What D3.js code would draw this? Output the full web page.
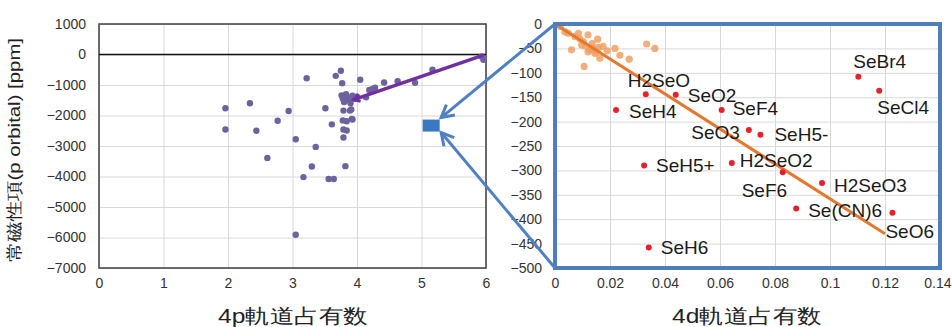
<!DOCTYPE html>
<html><head><meta charset="utf-8">
<script src="https://cdn.jsdelivr.net/npm/d3@7"></script>
<style>
html,body{margin:0;padding:0;background:#fff;}
text{font-family:"Liberation Sans",Arial,sans-serif;}
</style></head>
<body>
<svg id="c" width="952" height="327"></svg>
<script>
// ---------- data ----------
const leftX = [1.96,1.96,2.34,2.44,2.61,2.77,2.94,3.05,3.22,3.36,3.30,3.17,3.51,3.61,3.67,3.56,3.64,3.05,3.75,3.77,4.05,3.79,3.84,3.92,3.79,3.91,3.79,3.82,3.76,3.78,3.80,3.85,3.88,3.93,3.97,4.00,3.83,3.90,4.14,4.19,4.28,4.42,4.63,4.90,5.17,5.93,5.96,4.24,3.89,3.93,3.78,3.84];
const leftY = [-1760,-2460,-1600,-2500,-3390,-2170,-1850,-2780,-780,-3030,-3670,-4020,-1760,-2290,-700,-4080,-4080,-5910,-535,-940,-830,-2460,-2190,-2110,-1840,-1800,-2720,-3660,-1340,-1450,-1560,-1400,-1500,-1350,-1450,-1380,-1300,-1600,-1400,-1160,-1090,-920,-875,-930,-500,-65,-170,-1130,-1840,-2130,-2160,-2490];
const leftTrendX = [3.95,5.95];
const leftTrendY = [-1480,-30];
const leftXTicks = [0,1,2,3,4,5,6];
const leftYTicks = [1000,0,-1000,-2000,-3000,-4000,-5000,-6000,-7000];
const zoomMarkX = 5.15, zoomMarkY = -2330;

const orangeX = [0.002,0.0036,0.0048,0.006,0.0073,0.0085,0.0097,0.0103,0.0106,0.012,0.012,0.0127,0.0139,0.0145,0.0151,0.0155,0.0163,0.0175,0.0218,0.0236,0.027,0.0333,0.0363,0.009,0.011,0.0135,0.0158,0.019];
const orangeY = [-5,-16,-19,-53,-26,-19,-43,-36,-87,-22,-57,-53,-50,-60,-57,-31,-70,-46,-50,-64,-72,-41,-50,-30,-45,-40,-48,-55];
const orangeTrendX = [0,0.12];
const orangeTrendY = [0,-430];

const molNames = ["H2SeO","SeO2","SeH4","SeF4","SeO3","SeH5-","H2SeO2","SeH5+","SeBr4","SeCl4","SeF6","H2SeO3","Se(CN)6","SeO6","SeH6"];
const molX = [0.033,0.0439,0.0222,0.0606,0.0705,0.0747,0.0643,0.0324,0.1103,0.1179,0.0828,0.0971,0.0877,0.1227,0.0341];
const molY = [-144,-145,-176,-176,-217,-227,-285,-290,-108,-137,-304,-326,-378,-387,-458];
const rightXTicks = [0,0.02,0.04,0.06,0.08,0.1,0.12,0.14];
const rightYTicks = [0,-50,-100,-150,-200,-250,-300,-350,-400,-450,-500];

// label layout (pixel offsets from point, anchor)
const labelLayout = [
 [-18,-14,"start"],[12,1,"start"],[13,2,"start"],[11,-1,"start"],[-9,3,"end"],
 [14,0,"start"],[8,-3,"start"],[12,0,"start"],[-5,-15,"start"],[-2,17,"start"],
 [-41,18,"start"],[12,2,"start"],[12,2,"start"],[-7,19,"start"],[12,0,"start"]
];

// ---------- scales ----------
const svg = d3.select("#c");
const xL = d3.scaleLinear([0,6],[99,486]);
const yL = d3.scaleLinear([-7000,1000],[268,24]);
const xR = d3.scaleLinear([0,0.14],[555,940]);
const yR = d3.scaleLinear([-500,0],[268,24]);

const grid = "#d9d9d9";

// ---------- left chart ----------
const gL = svg.append("g");
gL.append("g").attr("transform","translate(0,268)")
  .call(d3.axisBottom(xL).tickValues(leftXTicks).tickSize(-244).tickFormat(""))
  .call(g=>g.select(".domain").remove())
  .call(g=>g.selectAll("line").attr("stroke",grid).attr("stroke-width",1));
gL.append("g").attr("transform","translate(99,0)")
  .call(d3.axisLeft(yL).tickValues(leftYTicks).tickSize(-387).tickFormat(""))
  .call(g=>g.select(".domain").remove())
  .call(g=>g.selectAll("line").attr("stroke",grid).attr("stroke-width",1));
gL.append("rect").attr("x",xL(0)).attr("y",yL(1000)).attr("width",xL(6)-xL(0)).attr("height",yL(-7000)-yL(1000))
  .attr("fill","none").attr("stroke","#4a4a4a").attr("stroke-width",1.6);
gL.append("line").attr("x1",xL(0)).attr("x2",xL(6)).attr("y1",yL(0)).attr("y2",yL(0))
  .attr("stroke","#111").attr("stroke-width",1.5);

// tick labels
gL.append("g").attr("transform","translate(99,0)")
  .call(d3.axisLeft(yL).tickValues(leftYTicks).tickSize(0).tickPadding(13).tickFormat(d3.format("d")))
  .call(g=>g.select(".domain").remove())
  .call(g=>g.selectAll("text").attr("font-size","14px").attr("fill","#333").attr("font-family","Liberation Sans, Arial"));
gL.append("g").attr("transform","translate(0,268)")
  .call(d3.axisBottom(xL).tickValues(leftXTicks).tickSize(0).tickPadding(10).tickFormat(d3.format("d")))
  .call(g=>g.select(".domain").remove())
  .call(g=>g.selectAll("text").attr("font-size","14px").attr("fill","#333").attr("font-family","Liberation Sans, Arial"));

gL.append("g").selectAll("circle").data(leftX).join("circle")
  .attr("cx",(d)=>xL(d)).attr("cy",(d,i)=>yL(leftY[i])).attr("r",3.2)
  .attr("fill","#6e629e");
gL.append("line")
  .attr("x1",xL(leftTrendX[0])).attr("y1",yL(leftTrendY[0]))
  .attr("x2",xL(leftTrendX[1])).attr("y2",yL(leftTrendY[1]))
  .attr("stroke","#7030a0").attr("stroke-width",3.5).attr("stroke-linecap","round");
(function(){
  const x1=xL(leftTrendX[1]), y1=yL(leftTrendY[1]), x0=xL(leftTrendX[0]), y0=yL(leftTrendY[0]);
  const a=Math.atan2(y0-y1,x0-x1);
  const L=7, s=0.55;
  gL.append("path")
    .attr("d",`M${x0-L*Math.cos(a-s)},${y0-L*Math.sin(a-s)}L${x0},${y0}L${x0-L*Math.cos(a+s)},${y0-L*Math.sin(a+s)}`)
    .attr("fill","none").attr("stroke","#7030a0").attr("stroke-width",3);
})();

// zoom marker square
gL.append("rect").attr("x",xL(zoomMarkX)-8.5).attr("y",yL(zoomMarkY)-6).attr("width",17).attr("height",12)
  .attr("fill","#3a78c2");

// ---------- right chart ----------
const gR = svg.append("g");
gR.append("rect").attr("x",555).attr("y",24).attr("width",385).attr("height",244).attr("fill","#fff");
gR.append("g").attr("transform","translate(0,268)")
  .call(d3.axisBottom(xR).tickValues(rightXTicks).tickSize(-244).tickFormat(""))
  .call(g=>g.select(".domain").remove())
  .call(g=>g.selectAll("line").attr("stroke",grid).attr("stroke-width",1));
gR.append("g").attr("transform","translate(555,0)")
  .call(d3.axisLeft(yR).tickValues(rightYTicks).tickSize(-385).tickFormat(""))
  .call(g=>g.select(".domain").remove())
  .call(g=>g.selectAll("line").attr("stroke",grid).attr("stroke-width",1));

gR.append("g").selectAll("circle").data(orangeX).join("circle")
  .attr("cx",d=>xR(d)).attr("cy",(d,i)=>yR(orangeY[i])).attr("r",3.6)
  .attr("fill","#f0a064").attr("fill-opacity",0.85);
gR.append("line")
  .attr("x1",xR(orangeTrendX[0])).attr("y1",yR(orangeTrendY[0]))
  .attr("x2",xR(orangeTrendX[1])).attr("y2",yR(orangeTrendY[1]))
  .attr("stroke","#e6782e").attr("stroke-width",3);

gR.append("g").selectAll("circle").data(molX).join("circle")
  .attr("cx",d=>xR(d)).attr("cy",(d,i)=>yR(molY[i])).attr("r",3)
  .attr("fill","#e8202a");
gR.append("g").selectAll("text").data(molNames).join("text")
  .attr("x",(d,i)=>xR(molX[i])+labelLayout[i][0])
  .attr("y",(d,i)=>yR(molY[i])+labelLayout[i][1])
  .attr("text-anchor",(d,i)=>labelLayout[i][2])
  .attr("dominant-baseline","central")
  .attr("font-size","19px").attr("fill","#1a1a1a")
  .text(d=>d);

gR.append("rect").attr("x",555).attr("y",24).attr("width",385).attr("height",244)
  .attr("fill","none").attr("stroke","#4f7fbb").attr("stroke-width",4);

gR.append("g").attr("transform","translate(555,0)")
  .call(d3.axisLeft(yR).tickValues(rightYTicks).tickSize(0).tickPadding(13).tickFormat(d3.format("d")))
  .call(g=>g.select(".domain").remove())
  .call(g=>g.selectAll("text").attr("font-size","14px").attr("fill","#333").attr("font-family","Liberation Sans, Arial"));
gR.append("g").attr("transform","translate(0,268)")
  .call(d3.axisBottom(xR).tickValues(rightXTicks).tickSize(0).tickPadding(10).tickFormat(d=>String(d)))
  .call(g=>g.select(".domain").remove())
  .call(g=>g.selectAll("text").attr("font-size","14px").attr("fill","#333").attr("font-family","Liberation Sans, Arial"))
  .call(g=>g.selectAll(".tick").filter(d=>d===0.14).select("text").attr("text-anchor","end").attr("x",11));

// ---------- titles ----------
svg.append("text").attr("x",293).attr("y",323).attr("text-anchor","middle")
  .attr("font-size","20px").attr("fill","#222").attr("textLength",150).attr("lengthAdjust","spacingAndGlyphs")
  .attr("font-family","Noto Sans CJK JP, sans-serif").text("4p軌道占有数");
svg.append("text").attr("x",747).attr("y",323).attr("text-anchor","middle")
  .attr("font-size","20px").attr("fill","#222").attr("textLength",150).attr("lengthAdjust","spacingAndGlyphs")
  .attr("font-family","Noto Sans CJK JP, sans-serif").text("4d軌道占有数");
svg.append("text").attr("transform","translate(20,150) rotate(-90)").attr("text-anchor","middle")
  .attr("font-size","17px").attr("fill","#222").attr("textLength",224).attr("lengthAdjust","spacingAndGlyphs")
  .attr("font-family","Noto Sans CJK JP, sans-serif").text("常磁性項(p orbital) [ppm]");

// ---------- zoom arrows ----------
function arrow(xs,ys,xt,yt){
  const a=Math.atan2(yt-ys,xt-xs), L=14, s=0.5;
  svg.append("line").attr("x1",xs).attr("y1",ys).attr("x2",xt).attr("y2",yt)
    .attr("stroke","#4f81c2").attr("stroke-width",3);
  svg.append("path")
    .attr("d",`M${xt-L*Math.cos(a-s)},${yt-L*Math.sin(a-s)}L${xt},${yt}L${xt-L*Math.cos(a+s)},${yt-L*Math.sin(a+s)}`)
    .attr("fill","none").attr("stroke","#4f81c2").attr("stroke-width",3);
}
arrow(xR(0),yR(0),xL(zoomMarkX)+10,yL(zoomMarkY)-8);
arrow(xR(0),yR(-500),xL(zoomMarkX)+10,yL(zoomMarkY)+7);
</script>
</body></html>
